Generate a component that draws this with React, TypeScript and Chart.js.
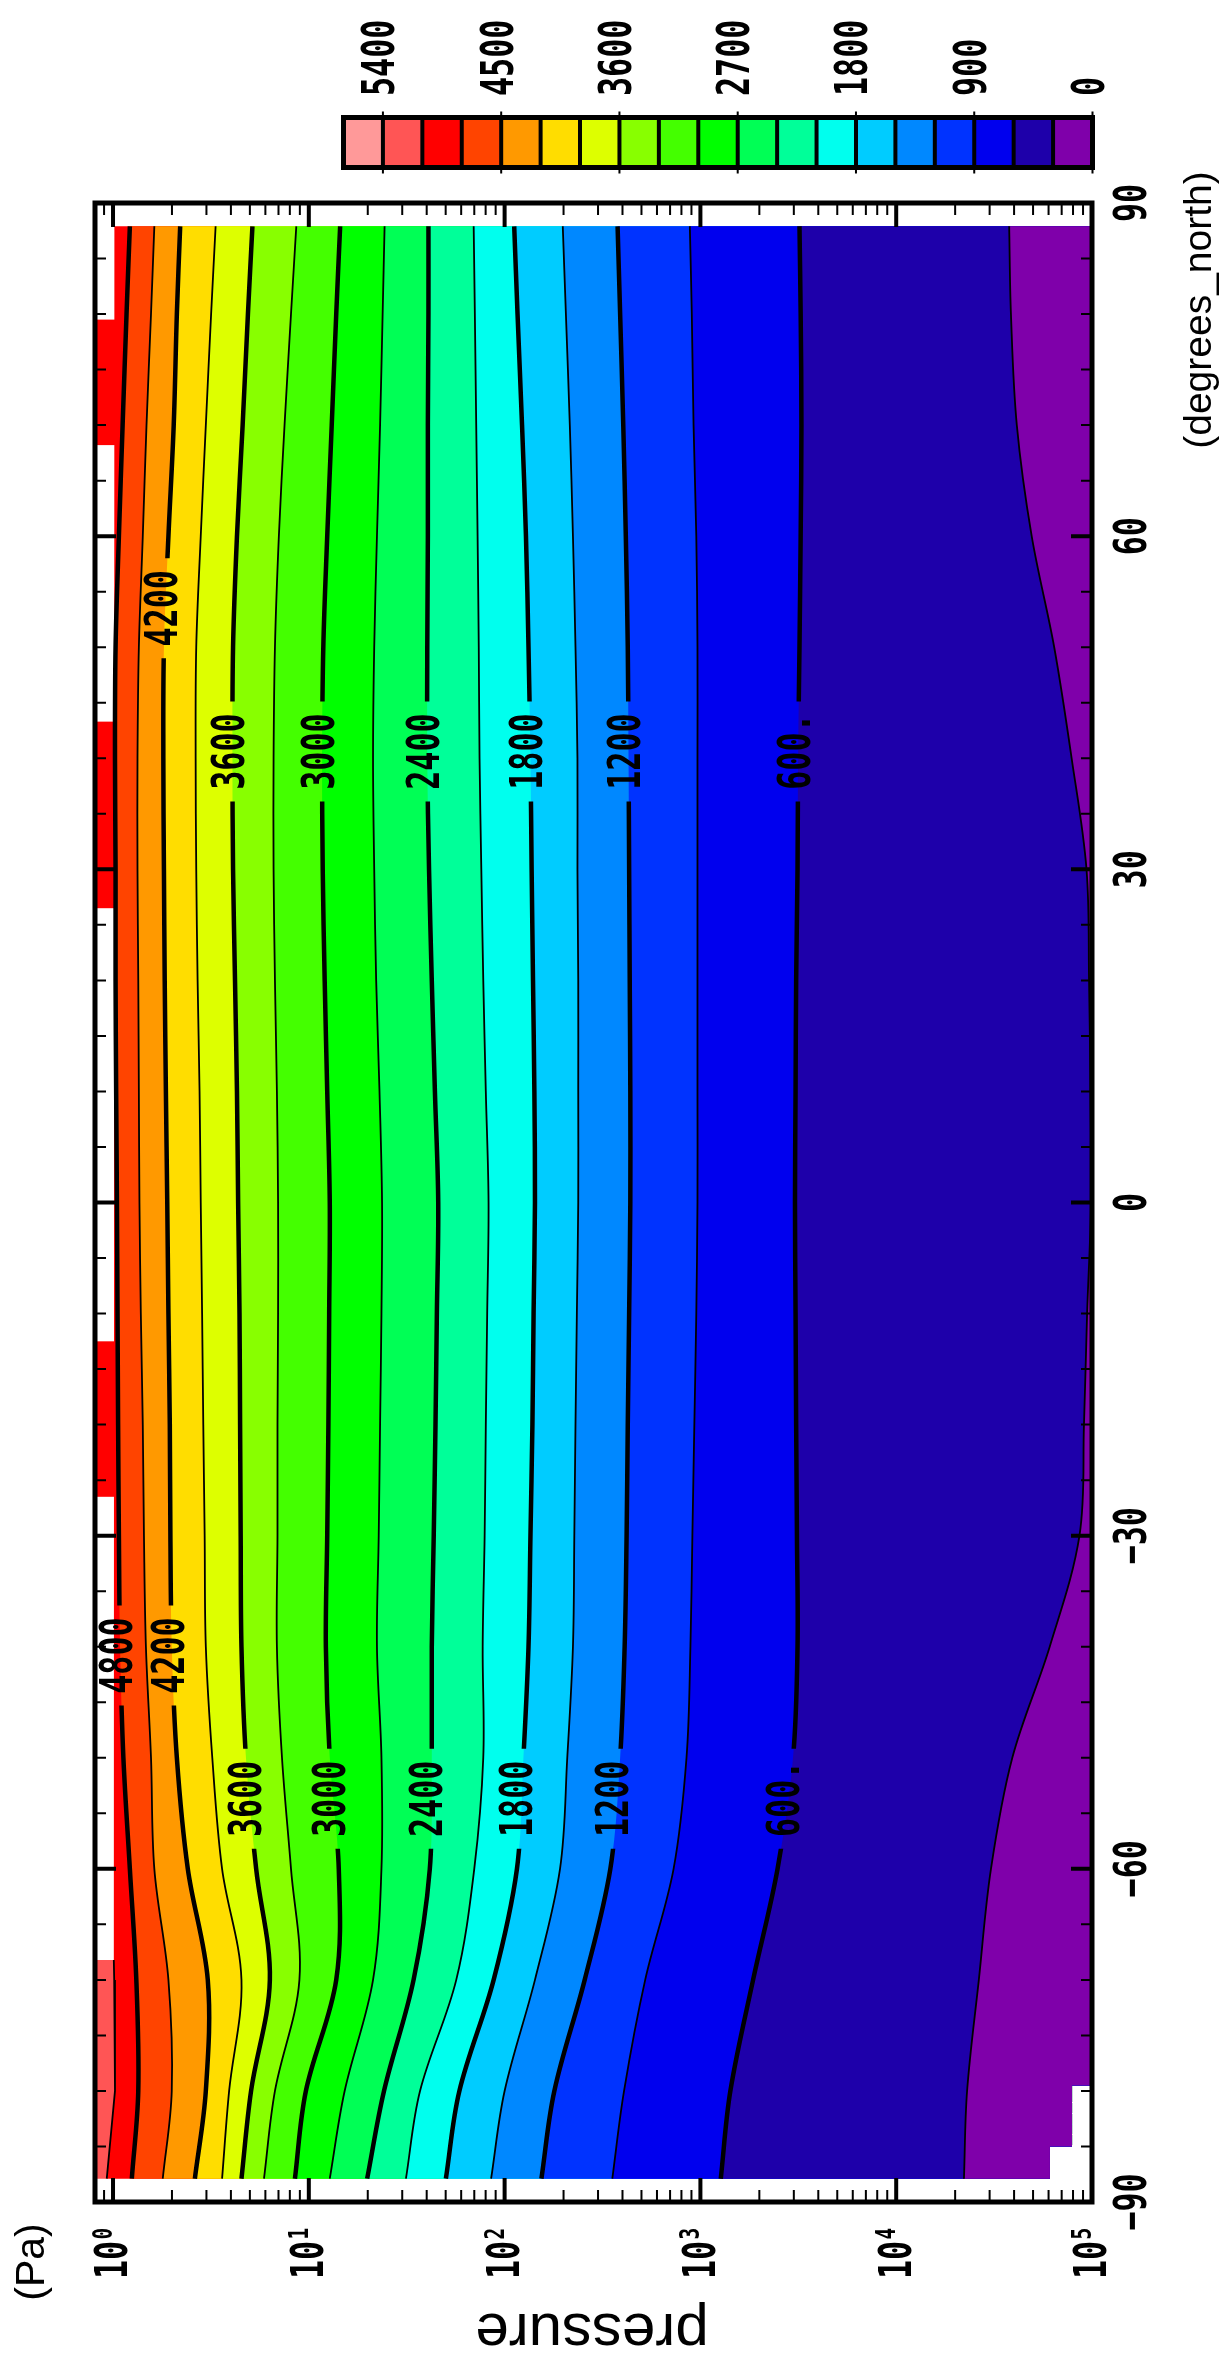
import { useEffect, useRef } from "react"
import { Chart, registerables } from "chart.js"

Chart.register(...registerables)

// latitude rows (degrees_north) where the contour positions were read
const LATS = [87.9, 80, 70, 60, 50, 40, 30, 20, 10, 0, -10, -20, -30, -40, -50, -60, -70, -80, -87.9]

// log10(pressure / Pa) of each contour line at LATS
const C4800 = [0.086, 0.069, 0.049, 0.03, 0.013, 0.01, 0.013, 0.013, 0.016, 0.02, 0.023, 0.026, 0.03, 0.036, 0.053, 0.086, 0.119, 0.129, 0.096]
const C4500 = [0.211, 0.194, 0.171, 0.152, 0.132, 0.125, 0.125, 0.129, 0.132, 0.135, 0.142, 0.152, 0.158, 0.168, 0.194, 0.211, 0.283, 0.3, 0.254]
const C4200 = [0.343, 0.326, 0.31, 0.283, 0.26, 0.257, 0.26, 0.264, 0.27, 0.277, 0.283, 0.29, 0.293, 0.3, 0.326, 0.382, 0.484, 0.474, 0.418]
const C3900 = [0.524, 0.501, 0.474, 0.448, 0.425, 0.422, 0.425, 0.432, 0.442, 0.448, 0.455, 0.461, 0.468, 0.474, 0.507, 0.557, 0.656, 0.593, 0.557]
const C3600 = [0.712, 0.689, 0.662, 0.633, 0.613, 0.61, 0.613, 0.623, 0.633, 0.639, 0.646, 0.649, 0.652, 0.656, 0.679, 0.731, 0.801, 0.705, 0.656]
const C3300 = [0.936, 0.909, 0.876, 0.847, 0.827, 0.82, 0.82, 0.827, 0.837, 0.843, 0.843, 0.84, 0.84, 0.837, 0.863, 0.909, 0.952, 0.827, 0.771]
const C3000 = [1.16, 1.14, 1.117, 1.094, 1.074, 1.068, 1.071, 1.081, 1.094, 1.107, 1.104, 1.1, 1.094, 1.087, 1.107, 1.153, 1.14, 0.985, 0.929]
const C2700 = [1.387, 1.377, 1.364, 1.348, 1.334, 1.328, 1.334, 1.344, 1.361, 1.374, 1.371, 1.364, 1.357, 1.348, 1.371, 1.371, 1.328, 1.183, 1.107]
const C2400 = [1.611, 1.611, 1.608, 1.608, 1.605, 1.605, 1.614, 1.628, 1.644, 1.661, 1.654, 1.647, 1.638, 1.628, 1.628, 1.618, 1.535, 1.384, 1.298]
const C2100 = [1.842, 1.848, 1.855, 1.862, 1.868, 1.872, 1.881, 1.891, 1.904, 1.918, 1.911, 1.904, 1.898, 1.888, 1.891, 1.845, 1.753, 1.568, 1.496]
const C1800 = [2.049, 2.066, 2.089, 2.109, 2.122, 2.132, 2.138, 2.145, 2.152, 2.155, 2.148, 2.142, 2.132, 2.122, 2.096, 2.063, 1.944, 1.769, 1.7]
const C1500 = [2.297, 2.313, 2.333, 2.349, 2.362, 2.372, 2.372, 2.376, 2.376, 2.376, 2.369, 2.362, 2.356, 2.349, 2.32, 2.283, 2.155, 2.0, 1.931]
const C1200 = [2.577, 2.59, 2.606, 2.619, 2.629, 2.633, 2.636, 2.639, 2.642, 2.642, 2.636, 2.629, 2.623, 2.613, 2.59, 2.54, 2.409, 2.254, 2.188]
const C900 = [2.946, 2.956, 2.965, 2.979, 2.985, 2.985, 2.985, 2.985, 2.985, 2.985, 2.979, 2.969, 2.959, 2.949, 2.929, 2.863, 2.718, 2.61, 2.55]
const C600 = [3.506, 3.512, 3.516, 3.512, 3.506, 3.499, 3.496, 3.489, 3.486, 3.483, 3.486, 3.489, 3.493, 3.496, 3.473, 3.394, 3.269, 3.153, 3.104]
const C300 = [4.577, 4.586, 4.616, 4.692, 4.807, 4.896, 4.972, 4.985, 4.992, 4.995, 4.975, 4.959, 4.936, 4.784, 4.593, 4.484, 4.422, 4.362, 4.346]

// the 5100 line only shows up near the south pole
const C5100_LATS = [-68.2, -70, -80, -87.9]
const C5100 = [0.004, 0.006, 0.01, -0.032]

const LEVELS = [4800, 4500, 4200, 3900, 3600, 3300, 3000, 2700, 2400, 2100, 1800, 1500, 1200, 900, 600, 300]
const CONTOURS = [C4800, C4500, C4200, C3900, C3600, C3300, C3000, C2700, C2400, C2100, C1800, C1500, C1200, C900, C600, C300]

// top level of the data (~1 Pa) and the cells that are shaded above it
const TOP_EDGE = 0.007
const TOP_CELL_NORTH = [79.5, 43.3, -12.5]
const TOP_CELL_SOUTH = [68.2, 26.5, -26.5]

// bottom of the data, with the missing cells near the south pole
const SURFACE_LATS = [87.9, -79.5, -79.5, -85.0, -85.0, -87.9]
const SURFACE = [5, 5, 4.898, 4.898, 4.785, 4.785]

// shading, 5700 -> 0 in steps of 300
const SHADE_COLORS = [
  "#ff9999", "#ff5555", "#ff0000", "#ff4400", "#ff9900", "#ffdd00", "#ddff00",
  "#88ff00", "#44ff00", "#00ff00", "#00ff55", "#00ff99", "#00ffee", "#00ccff",
  "#0088ff", "#0033ff", "#0000ee", "#1e00aa", "#7f00aa",
]
const SHADE_TICKS = [5400, 4500, 3600, 2700, 1800, 900, 0]

// contour labels
const LABEL_LEVELS = [4200, 3600, 3000, 2400, 1800, 1200, 600, 4800, 4200, 3600, 3000, 2400, 1800, 1200, 600]
const LABEL_LATS = [53.5, 40.6, 40.6, 40.6, 40.6, 40.6, 40.6, -40.8, -40.8, -53.7, -53.7, -53.7, -53.7, -53.7, -53.7]

const LAT_TICKS = [90, 60, 30, 0, -30, -60, -90]
const DECADES = [0, 1, 2, 3, 4, 5]

const mono = (size: number) => `bold ${size}px "DejaVu Sans Mono", monospace`
const sans = (size: number) => `${size}px "Liberation Sans", Arial, sans-serif`
const SQUEEZE = 0.72

function lpAt(values: number[], lats: number[], lat: number) {
  for (let i = 0; i < lats.length - 1; i++) {
    const a = lats[i]
    const b = lats[i + 1]
    if (lat <= a && lat >= b) {
      const t = (a - lat) / (a - b)
      return values[i] + t * (values[i + 1] - values[i])
    }
  }
  return values[values.length - 1]
}

function drawText(
  ctx: CanvasRenderingContext2D,
  text: string,
  x: number,
  y: number,
  angle: number,
  font: string,
  align: CanvasTextAlign,
  squeeze = 1,
  baseline: CanvasTextBaseline = "middle"
) {
  ctx.save()
  ctx.translate(x, y)
  ctx.rotate(angle)
  ctx.scale(squeeze, 1)
  ctx.font = font
  ctx.textAlign = align
  ctx.textBaseline = baseline
  ctx.fillStyle = "#000"
  ctx.fillText(text, 0, 0)
  ctx.restore()
}

function labelSpots(chart: any) {
  const xs = chart.scales.x
  const ys = chart.scales.y
  return LABEL_LEVELS.map((lvl, i) => {
    const k = LEVELS.indexOf(lvl)
    const lat = LABEL_LATS[i]
    return {
      ds: k + 1,
      text: lvl === 600 ? "600." : String(lvl),
      x: xs.getPixelForValue(Math.pow(10, lpAt(CONTOURS[k], LATS, lat))),
      y: ys.getPixelForValue(lat),
    }
  })
}

const clipped = new Set<number>()

const figurePlugin = {
  id: "figure",
  beforeDatasetsDraw(chart: any) {
    const ctx: CanvasRenderingContext2D = chart.ctx
    const xs = chart.scales.x
    const ys = chart.scales.y
    const px = (lp: number) => xs.getPixelForValue(Math.pow(10, lp))
    const py = (lat: number) => ys.getPixelForValue(lat)
    const xFrame = chart.chartArea.left
    const surfaceBack = () => {
      for (let i = SURFACE.length - 1; i >= 0; i--) ctx.lineTo(px(SURFACE[i]), py(SURFACE_LATS[i]))
    }

    ctx.save()
    // shaded cells above the top level
    ctx.fillStyle = SHADE_COLORS[2]
    TOP_CELL_NORTH.forEach((n, i) => {
      const y0 = py(n)
      const y1 = py(TOP_CELL_SOUTH[i])
      ctx.fillRect(xFrame, y0, px(TOP_EDGE + 0.01) - xFrame, y1 - y0)
    })
    // 5100-5400 near the south pole
    ctx.fillStyle = SHADE_COLORS[1]
    ctx.beginPath()
    ctx.moveTo(xFrame, py(C5100_LATS[0]))
    ctx.lineTo(xFrame, py(C5100_LATS[C5100_LATS.length - 1]))
    for (let i = C5100.length - 1; i >= 0; i--) ctx.lineTo(px(C5100[i]), py(C5100_LATS[i]))
    ctx.closePath()
    ctx.fill()
    // 4800-5100
    ctx.fillStyle = SHADE_COLORS[2]
    ctx.beginPath()
    ctx.moveTo(px(TOP_EDGE), py(LATS[0]))
    C5100_LATS.forEach((lat, i) => ctx.lineTo(px(C5100[i]), py(lat)))
    surfaceBack()
    ctx.closePath()
    ctx.fill()
    // every contour shades its high-pressure side
    LEVELS.forEach((lvl, k) => {
      const meta = chart.getDatasetMeta(k + 1)
      const line = meta.dataset
      ctx.beginPath()
      if (line && typeof line.pathSegment === "function") {
        line.updateControlPoints(chart.chartArea, "y")
        line.pathSegment(ctx, { start: 0, end: line.points.length - 1, loop: false }, { move: true })
      } else {
        LATS.forEach((lat, i) => (i ? ctx.lineTo(px(CONTOURS[k][i]), py(lat)) : ctx.moveTo(px(CONTOURS[k][i]), py(lat))))
      }
      surfaceBack()
      ctx.closePath()
      ctx.fillStyle = SHADE_COLORS[(5700 - lvl) / 300]
      ctx.fill()
    })
    ctx.restore()
  },
  beforeDatasetDraw(chart: any, args: any) {
    const gaps = labelSpots(chart).filter((s) => s.ds === args.index)
    if (!gaps.length) return
    const ctx: CanvasRenderingContext2D = chart.ctx
    ctx.save()
    ctx.beginPath()
    ctx.rect(0, 0, chart.width, chart.height)
    gaps.forEach((g) => ctx.rect(g.x - 24, g.y - 50, 48, 100))
    ctx.clip("evenodd")
    clipped.add(args.index)
  },
  afterDatasetDraw(chart: any, args: any) {
    if (clipped.has(args.index)) {
      chart.ctx.restore()
      clipped.delete(args.index)
    }
  },
  afterDraw(chart: any) {
    const ctx: CanvasRenderingContext2D = chart.ctx
    const xs = chart.scales.x
    const ys = chart.scales.y
    const { left, right, top, bottom } = chart.chartArea
    const px = (v: number) => xs.getPixelForValue(v)
    const py = (lat: number) => ys.getPixelForValue(lat)

    // contour labels
    labelSpots(chart).forEach((s) => drawText(ctx, s.text, s.x, s.y, -Math.PI / 2, mono(44), "center", SQUEEZE))

    ctx.save()
    ctx.strokeStyle = "#000"
    ctx.lineCap = "butt"
    // pressure ticks, top and bottom
    for (let d = -1; d <= 5; d++) {
      for (let m = 1; m <= 9; m++) {
        const v = m * Math.pow(10, d)
        if (v < xs.min * 0.999 || v > xs.max * 1.001) continue
        const major = m === 1
        const len = major ? 24 : 12
        const x = px(v)
        ctx.lineWidth = major ? 4 : 2
        ctx.beginPath()
        ctx.moveTo(x, top)
        ctx.lineTo(x, top + len)
        ctx.moveTo(x, bottom)
        ctx.lineTo(x, bottom - len)
        ctx.stroke()
      }
    }
    // latitude ticks, left and right
    for (let lat = -90; lat <= 90; lat += 5) {
      const major = lat % 30 === 0
      const len = major ? 21 : 11
      const y = py(lat)
      ctx.lineWidth = major ? 4 : 2
      ctx.beginPath()
      ctx.moveTo(left, y)
      ctx.lineTo(left + len, y)
      ctx.moveTo(right, y)
      ctx.lineTo(right - len, y)
      ctx.stroke()
    }
    ctx.lineWidth = 5
    ctx.strokeRect(left, top, right - left, bottom - top)

    // colour bar
    const cbLeft = 343.5
    const cbRight = 1092.5
    const cbTop = 117.5
    const cbBottom = 167.5
    const w = (cbRight - cbLeft) / SHADE_COLORS.length
    SHADE_COLORS.forEach((c, i) => {
      ctx.fillStyle = c
      ctx.fillRect(cbLeft + i * w, cbTop, w, cbBottom - cbTop)
    })
    ctx.lineWidth = 4
    for (let i = 1; i < SHADE_COLORS.length; i++) {
      ctx.beginPath()
      ctx.moveTo(cbLeft + i * w, cbTop)
      ctx.lineTo(cbLeft + i * w, cbBottom)
      ctx.stroke()
    }
    ctx.lineWidth = 5
    ctx.strokeRect(cbLeft, cbTop, cbRight - cbLeft, cbBottom - cbTop)
    ctx.lineWidth = 2
    SHADE_TICKS.forEach((v) => {
      const x = cbLeft + ((5700 - v) / 300) * w
      ctx.beginPath()
      ctx.moveTo(x, cbTop - 6)
      ctx.lineTo(x, cbTop)
      ctx.moveTo(x, cbBottom)
      ctx.lineTo(x, cbBottom + 6)
      ctx.stroke()
      drawText(ctx, String(v), x, 96, -Math.PI / 2, mono(44), "left", SQUEEZE)
    })
    ctx.restore()

    // latitude tick labels
    LAT_TICKS.forEach((lat) => {
      const t = lat < 0 ? `\u2212${-lat}` : String(lat)
      drawText(ctx, t, right + 43, py(lat), -Math.PI / 2, mono(44), "center", SQUEEZE)
    })

    // pressure tick labels 10^n
    DECADES.forEach((d) => {
      const x = px(Math.pow(10, d))
      ctx.save()
      ctx.translate(x + 3, bottom + 77)
      ctx.rotate(-Math.PI / 2)
      ctx.scale(SQUEEZE, 1)
      ctx.fillStyle = "#000"
      ctx.textAlign = "left"
      ctx.textBaseline = "middle"
      ctx.font = mono(44)
      ctx.fillText("10", 0, 0)
      const tw = ctx.measureText("10").width
      ctx.font = mono(27)
      ctx.fillText(String(d), tw + 2, -11)
      ctx.restore()
    })

    // axis titles
    drawText(ctx, "(Pa)", 33, 2262, -Math.PI / 2, sans(41), "center")
    drawText(ctx, "pressure", 592, 2314, Math.PI, sans(60), "center", 1, "alphabetic")
    drawText(ctx, "(degrees_north)", 1200, 310, -Math.PI / 2, sans(39), "center")
  },
}

export default function App() {
  const canvasRef = useRef<HTMLCanvasElement>(null)

  useEffect(() => {
    document.body.style.margin = "0"
    const canvas = canvasRef.current
    if (!canvas) return

    const datasets: any[] = [
      {
        label: "5100",
        data: C5100_LATS.map((lat, i) => ({ x: Math.pow(10, C5100[i]), y: lat })),
        borderColor: "#000",
        borderWidth: 1.8,
        pointRadius: 0,
        tension: 0,
        fill: false,
      },
      ...LEVELS.map((lvl, k) => ({
        label: String(lvl),
        data: LATS.map((lat, i) => ({ x: Math.pow(10, CONTOURS[k][i]), y: lat })),
        borderColor: "#000",
        borderWidth: lvl % 600 === 0 ? 4.5 : 1.8,
        borderJoinStyle: "round",
        pointRadius: 0,
        tension: 0.35,
        fill: false,
      })),
    ]

    const chart = new Chart(canvas, {
      type: "line",
      data: { datasets },
      options: {
        indexAxis: "y",
        responsive: false,
        animation: false,
        events: [],
        layout: { padding: { left: 95, right: 132, top: 203, bottom: 164 } },
        scales: {
          x: { type: "logarithmic", min: 0.809, max: 100000, bounds: "data", display: false },
          y: { type: "linear", min: -90, max: 90, bounds: "data", display: false },
        },
        plugins: {
          legend: { display: false },
          tooltip: { enabled: false },
        },
      } as any,
      plugins: [figurePlugin as any],
    })

    return () => {
      chart.destroy()
    }
  }, [])

  return (
    <div style={{ position: "absolute", left: 0, top: 0, width: 1224, height: 2366, background: "#fff", overflow: "hidden" }}>
      <canvas ref={canvasRef} width={1224} height={2366} />
    </div>
  )
}
